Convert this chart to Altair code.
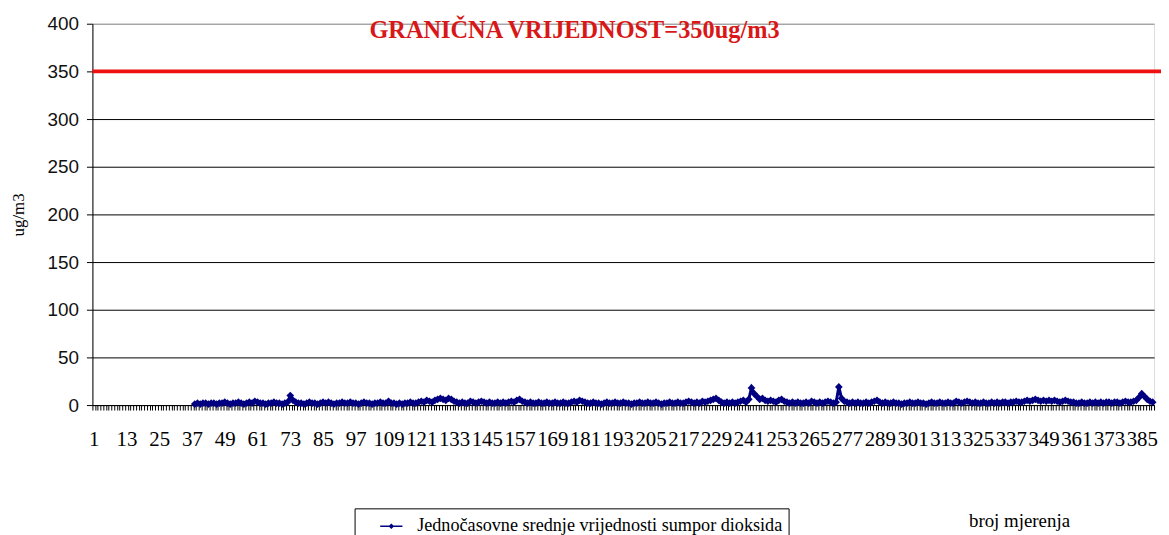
import altair as alt
import pandas as pd

N_CATS = 389
FIRST = 38
categories = list(range(1, N_CATS + 1))

so2 = [
    1,2,1,2,2,1,2,2,1,2,2,3,
    2,1,2,2,3,2,1,2,3,2,4,3,
    2,2,1,2,2,3,2,2,1,2,3,10,
    5,3,2,2,1,2,3,2,2,1,2,3,
    2,3,2,1,2,2,3,2,2,3,2,2,
    1,2,3,2,2,1,2,2,3,2,2,4,
    2,2,1,2,1,2,2,3,2,2,3,4,
    3,5,4,3,5,6,7,6,5,7,6,4,
    3,2,3,2,2,4,3,2,3,4,3,2,
    3,2,2,3,2,3,2,3,4,3,5,6,
    4,3,2,3,2,2,3,2,2,3,2,2,
    3,2,2,3,2,2,3,4,3,5,4,3,
    2,2,3,2,2,1,2,3,2,2,3,2,
    2,3,2,2,1,2,2,3,2,2,3,2,
    2,3,2,1,2,2,3,2,2,3,2,2,
    3,4,3,2,3,2,4,3,4,5,6,7,
    5,3,2,3,2,3,2,3,4,5,3,6,
    18,12,9,6,7,5,4,5,4,3,5,6,
    4,3,2,3,2,3,2,2,3,2,4,3,
    2,3,2,3,4,3,2,3,19,7,4,3,
    2,3,2,3,2,2,3,2,3,4,5,3,
    2,3,2,2,3,2,2,1,2,2,3,2,
    2,3,2,2,1,2,3,2,2,3,2,2,
    3,2,2,4,3,2,3,4,3,2,3,2,
    2,3,2,2,3,2,3,2,3,3,2,3,
    3,4,3,3,4,5,4,5,6,5,4,5,
    4,5,4,5,4,3,4,5,4,3,3,2,
    2,3,2,2,3,2,3,2,3,2,3,3,
    2,3,3,2,3,4,3,3,4,5,8,12,
    9,6,4,3,
]

LIMIT = 350
LIMIT_LABEL = "GRANIČNA VRIJEDNOST=350ug/m3"
SERIES = "Jednočasovne srednje vrijednosti sumpor dioksida"
y_ticks = [0, 50, 100, 150, 200, 250, 300, 350, 400]

df = pd.DataFrame({
    "k": categories[FIRST - 1:FIRST - 1 + len(so2)],
    "v": so2,
    "s": SERIES,
})

NAVY = "#000080"
SERIF = "Liberation Serif"
W, H = 1069, 384

xenc = alt.X(
    "k:O",
    scale=alt.Scale(domain=categories, paddingInner=0, paddingOuter=0),
    axis=alt.Axis(
        title="broj mjerenja",
        titleFont=SERIF, titleFontSize=19, titleFontWeight="normal",
        titleX=933, titleY=116, titleAlign="center", titleBaseline="middle",
        labelExpr="(datum.value - 1) % 12 == 0 ? datum.label : ''",
        labelAngle=0, labelOverlap=False, labelFont=SERIF,
        labelFontSize=21, labelColor="black", labelPadding=19,
        tickBand="extent", tickSize=5, tickColor="black",
        domainColor="black", grid=False,
    ),
)
yenc = alt.Y(
    "v:Q",
    scale=alt.Scale(domain=[0, 400], nice=False),
    axis=alt.Axis(
        values=y_ticks, title="ug/m3", titleFont=SERIF,
        titleFontSize=17, titleFontWeight="normal", titlePadding=20,
        labelFont="Liberation Sans", labelFontSize=19, labelColor="#111",
        labelPadding=8, tickSize=6, tickColor="black", domainColor="black",
        gridColor={"condition": {"test": "datum.value == 400", "value": "#888888"}, "value": "black"},
        gridWidth=1,
    ),
)

base = alt.Chart(df)

line = base.mark_line(strokeWidth=3).encode(
    x=xenc, y=yenc,
    color=alt.Color(
        "s:N",
        scale=alt.Scale(range=[NAVY]),
        legend=alt.Legend(
            title=None, orient="none", legendX=264, legendY=488,
            strokeColor="black", padding=6, fillColor="white",
            labelFont=SERIF, labelFontSize=18.3, labelColor="black",
            labelOffset=14, labelLimit=0, symbolOffset=19,
            symbolType="M-1,0L1,0M0,-0.16L0.16,0L0,0.16L-0.16,0Z",
            symbolSize=500, symbolStrokeWidth=1.5,
            symbolFillColor=NAVY, symbolStrokeColor=NAVY,
        ),
    ),
)
points = base.mark_point(shape="diamond", filled=True, size=60, color=NAVY, opacity=1).encode(
    x=alt.X("k:O"), y=alt.Y("v:Q")
)

limit_df = pd.DataFrame({"y": [LIMIT], "label": [LIMIT_LABEL], "k": [102], "ty": [392]})
limit = alt.Chart(limit_df).mark_rule(color="#EE1111", strokeWidth=4).encode(
    y=alt.Y("y:Q"), x=alt.value(0), x2=alt.value(W + 7)
)
label = alt.Chart(limit_df).mark_text(
    align="left", baseline="middle", font=SERIF, fontSize=24.5,
    fontWeight="bold", color="#D81818"
).encode(x=alt.X("k:O"), y=alt.Y("ty:Q"), text="label:N")

chart = alt.layer(limit, line, points, label).properties(
    width=W, height=H,
    autosize=alt.AutoSizeParams(type="none"),
    padding={"left": 85, "top": 14, "right": 7, "bottom": 129},
).configure_view(stroke="#888888", strokeWidth=1).configure(background="white")

chart.save("out.html", embed_options={"renderer": "svg", "actions": False})
